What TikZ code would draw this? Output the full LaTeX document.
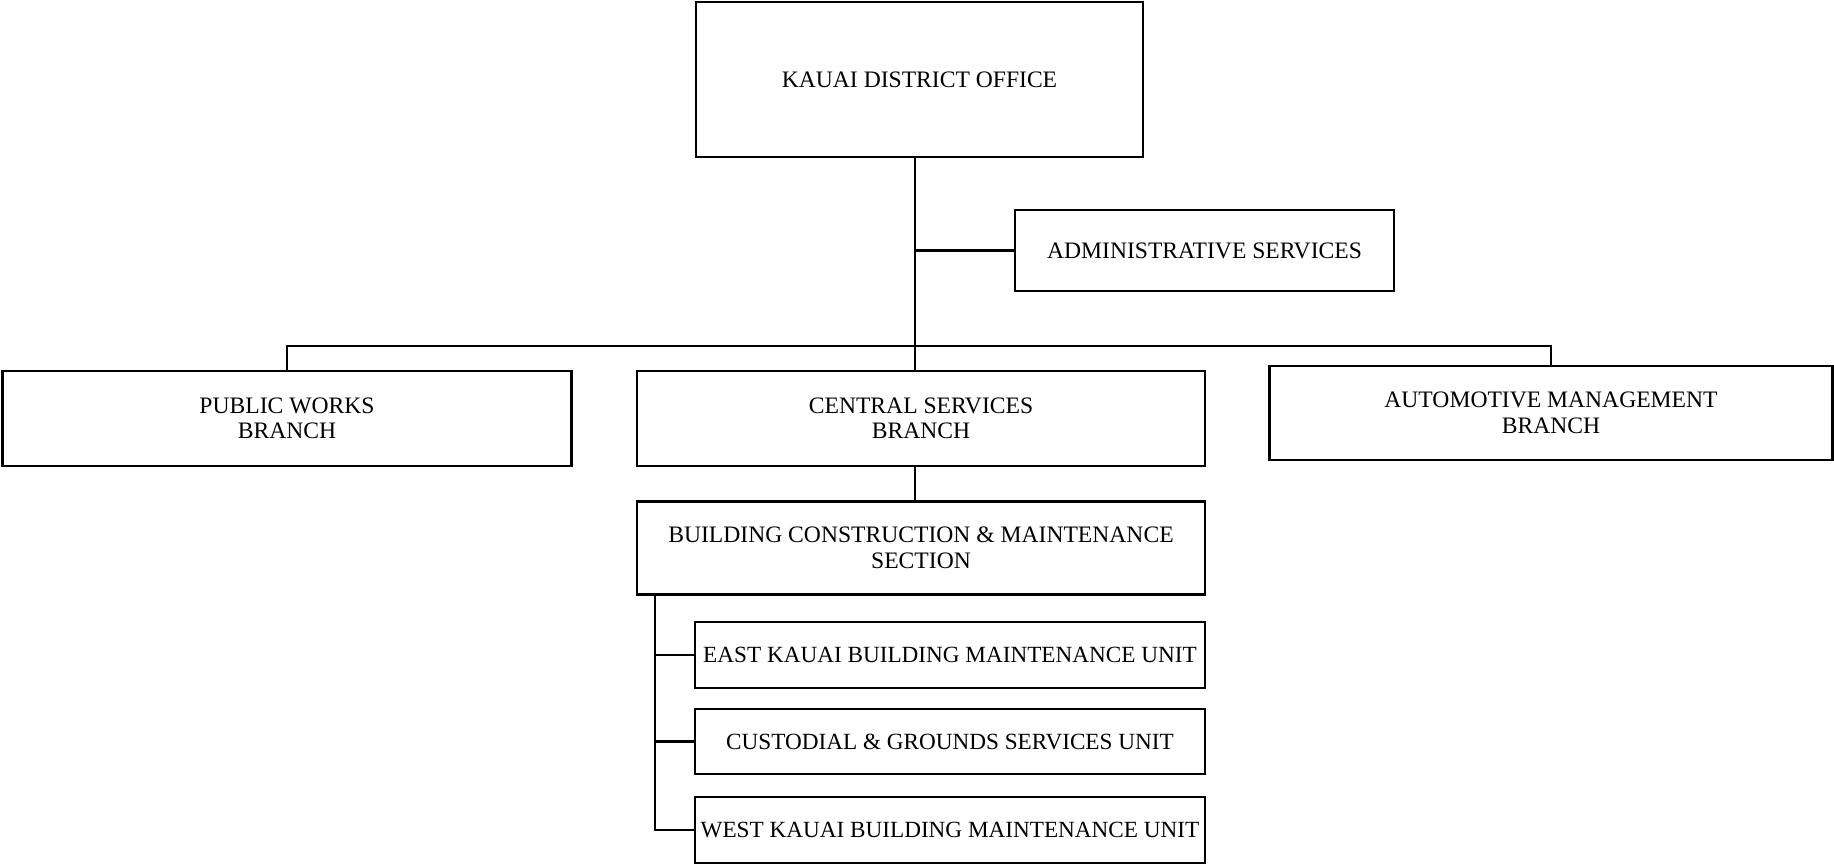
\documentclass[tikz,border=0pt]{standalone}
\usepackage{fontspec}
\setmainfont{Liberation Serif}
\begin{document}
\begin{tikzpicture}[x=0.5pt,y=-0.5pt,
  box/.style={draw, line width=1.1pt, rectangle, inner sep=0pt, align=center,
    font=\fontsize{11.8}{12.8}\selectfont},
  unitbox/.style={box, font=\fontsize{11.6}{12.6}\selectfont},
  conn/.style={line width=1.1pt}]
\useasboundingbox (0,0) rectangle (1834,865);
\node[box, minimum width=447*0.5pt, minimum height=155*0.5pt] (kauai) at (919.5,79.5) {KAUAI DISTRICT OFFICE};
\node[box, minimum width=379*0.5pt, minimum height=81*0.5pt] (admin) at (1204.5,250.5) {ADMINISTRATIVE SERVICES};
\node[box, minimum width=569*0.5pt, minimum height=95*0.5pt] (public) at (287,418.5) {PUBLIC WORKS\\BRANCH};
\node[box, minimum width=568*0.5pt, minimum height=95*0.5pt] (central) at (921,418.5) {CENTRAL SERVICES\\BRANCH};
\node[box, minimum width=563*0.5pt, minimum height=94*0.5pt] (auto) at (1551,413) {AUTOMOTIVE MANAGEMENT\\BRANCH};
\node[box, minimum width=568*0.5pt, minimum height=93*0.5pt] (bcm) at (921,548) {BUILDING CONSTRUCTION \& MAINTENANCE\\SECTION};
\node[unitbox, minimum width=510*0.5pt, minimum height=66*0.5pt] (east) at (950,655) {EAST KAUAI BUILDING MAINTENANCE UNIT};
\node[unitbox, minimum width=510*0.5pt, minimum height=65*0.5pt] (cust) at (950,741.5) {CUSTODIAL \& GROUNDS SERVICES UNIT};
\node[unitbox, minimum width=510*0.5pt, minimum height=66*0.5pt] (west) at (950,830) {WEST KAUAI BUILDING MAINTENANCE UNIT};
\coordinate (trunk) at (915,346);
\coordinate (spine) at (655,595);
\draw[conn] (kauai.south -| trunk) -- (central.north -| trunk);
\draw[conn] (admin.west) -- (admin.west -| trunk);
\draw[conn] (public.north) |- (trunk) -| (auto.north);
\draw[conn] (central.south -| trunk) -- (bcm.north -| trunk);
\draw[conn] (bcm.south -| spine) |- (west.west);
\draw[conn] (east.west) -- (east.west -| spine);
\draw[conn] (cust.west) -- (cust.west -| spine);
\end{tikzpicture}
\end{document}
